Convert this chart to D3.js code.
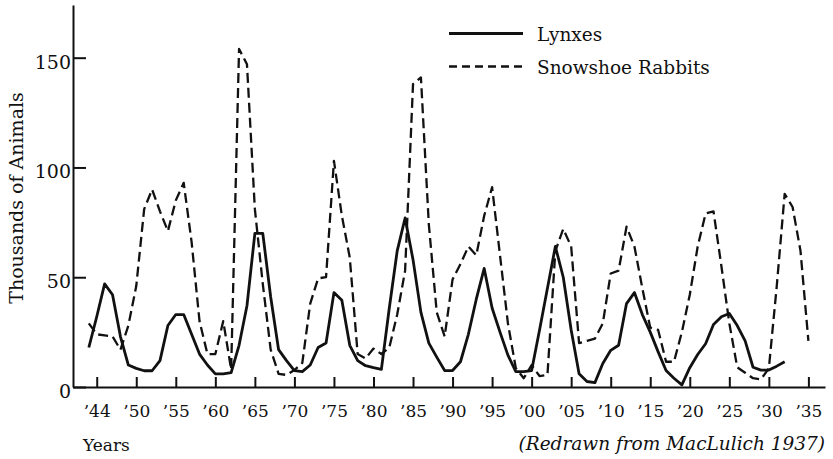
<!DOCTYPE html>
<html>
<head>
<meta charset="utf-8">
<script src="https://cdn.jsdelivr.net/npm/d3@7"></script>
<style>
  body { margin: 0; background: #fff; }
  svg { display: block; font-family: 'DejaVu Serif', serif; }
</style>
</head>
<body>
<script>
const width = 833;
const height = 459;

const firstYear = 1844;

// one value per year starting at firstYear
const lynxes = [
  18, 32, 47, 42, 23, 10, 8.5, 7.4, 7.4, 12,
  28, 33, 33, 24, 15, 10, 6, 6, 6.5, 19,
  37, 70, 70, 41, 17, 12, 7.5, 7, 10, 18,
  20, 43, 39.5, 19, 12, 9.7, 8.8, 8, 36, 62,
  77, 58, 34, 20, 13.6, 7.5, 7.5, 11.5, 24, 40,
  54, 36, 25, 14.5, 7, 7, 7.5, 26, 45, 64,
  50, 26, 6, 2.5, 2, 10.7, 16.7, 19, 38, 43,
  33, 25, 16, 7.5, 4, 1, 8.8, 14.8, 19.7, 28.5,
  32, 33.5, 28, 21, 9, 7.7, 7.7, 9.5, 11.5
];

const rabbits = [
  29, 24, 23.5, 23, 17, 28, 46, 81, 90, 80,
  71, 85, 93, 66, 30, 15, 15, 30, 8, 154,
  147, 81, 47, 17, 6, 5.5, 7.7, 11, 38, 49.5,
  50, 103, 78, 59, 15, 13, 17.5, 15, 18, 33,
  53, 138, 141, 74, 34, 23, 49, 56, 64, 60,
  78, 91, 60, 29, 8.6, 4, 10, 5, 5.5, 62,
  72, 64, 20, 21, 22, 29, 51.7, 53, 73, 64,
  45, 27, 26, 11.5, 11.5, 25, 42, 64, 79, 80,
  55, 29, 9, 6.5, 4, 3.5, 8.5, 46, 88, 82,
  62, 21
];

const xTickYears = [1845, 1850, 1855, 1860, 1865, 1870, 1875, 1880, 1885, 1890,
  1895, 1900, 1905, 1910, 1915, 1920, 1925, 1930, 1935];
const xTickLabels = ['’44', '’50', '’55', '’60', '’65', '’70', '’75', '’80', '’85', '’90',
  '’95', '’00', '’05', '’10', '’15', '’20', '’25', '’30', '’35'];
const yTickValues = [0, 50, 100, 150];

const seriesNames = ['Lynxes', 'Snowshoe Rabbits'];
const dashFor = { 'Lynxes': null, 'Snowshoe Rabbits': '10,5' };
const widthFor = { 'Lynxes': 2.8, 'Snowshoe Rabbits': 2.3 };

const ink = '#111';

const svg = d3.select('body').append('svg')
  .attr('width', width)
  .attr('height', height);

// Scales
const xScale = d3.scaleLinear()
  .domain([1842, 1937.1])
  .range([73, 825]);

const yScale = d3.scaleLinear()
  .domain([0, 174])
  .range([387, 5]);

// Axes, ticks point inward like the original plate
const xAxis = d3.axisBottom(xScale)
  .tickValues(xTickYears)
  .tickFormat((d, i) => xTickLabels[i])
  .tickSizeInner(-10)
  .tickSizeOuter(0);

const yAxis = d3.axisLeft(yScale)
  .tickValues(yTickValues)
  .tickSizeInner(-13)
  .tickSizeOuter(0);

const gx = svg.append('g')
  .attr('transform', `translate(0,${yScale(0)})`)
  .call(xAxis);

const gy = svg.append('g')
  .attr('transform', `translate(${xScale(1842)},0)`)
  .call(yAxis);

[gx, gy].forEach(g => {
  g.attr('font-family', null).attr('font-size', null);
  g.select('.domain').attr('stroke', ink).attr('stroke-width', 2);
  g.selectAll('.tick line').attr('stroke', ink).attr('stroke-width', 2);
  g.selectAll('.tick text').attr('fill', ink);
});

gx.selectAll('.tick text')
  .attr('y', 30)
  .attr('dy', null)
  .style('font-size', '17px');

gy.selectAll('.tick text')
  .attr('x', -2)
  .attr('dy', '10.5')
  .style('font-size', '19px');

// Lines
const line = d3.line()
  .x((d, i) => xScale(firstYear + i))
  .y(d => yScale(d));

const seriesData = { 'Lynxes': lynxes, 'Snowshoe Rabbits': rabbits };

seriesNames.slice().reverse().forEach(name => {
  svg.append('path')
    .datum(seriesData[name])
    .attr('d', line)
    .attr('fill', 'none')
    .attr('stroke', ink)
    .attr('stroke-width', widthFor[name])
    .attr('stroke-linejoin', 'round')
    .attr('stroke-dasharray', dashFor[name]);
});

// Legend
const legend = svg.selectAll('.legend')
  .data(seriesNames)
  .enter().append('g')
  .attr('class', 'legend')
  .attr('transform', (d, i) => `translate(449, ${33.5 + i * 33})`);

legend.append('line')
  .attr('x1', 0)
  .attr('x2', 74)
  .attr('stroke', ink)
  .attr('stroke-width', d => widthFor[d])
  .attr('stroke-dasharray', d => d === 'Lynxes' ? null : '8,5');

legend.append('text')
  .attr('x', 88)
  .attr('y', 7)
  .attr('fill', ink)
  .style('font-size', '18.5px')
  .text(d => d);

// Axis titles
svg.append('text')
  .attr('transform', 'rotate(-90)')
  .attr('x', -198)
  .attr('y', 23)
  .attr('fill', ink)
  .style('text-anchor', 'middle')
  .style('font-size', '19px')
  .text('Thousands of Animals');

svg.append('text')
  .attr('x', 83)
  .attr('y', 451)
  .attr('fill', ink)
  .style('font-size', '17px')
  .text('Years');

svg.append('text')
  .attr('x', 825)
  .attr('y', 450)
  .attr('fill', ink)
  .style('text-anchor', 'end')
  .style('font-size', '18.5px')
  .style('font-style', 'italic')
  .text('(Redrawn from MacLulich 1937)');
</script>
</body>
</html>
